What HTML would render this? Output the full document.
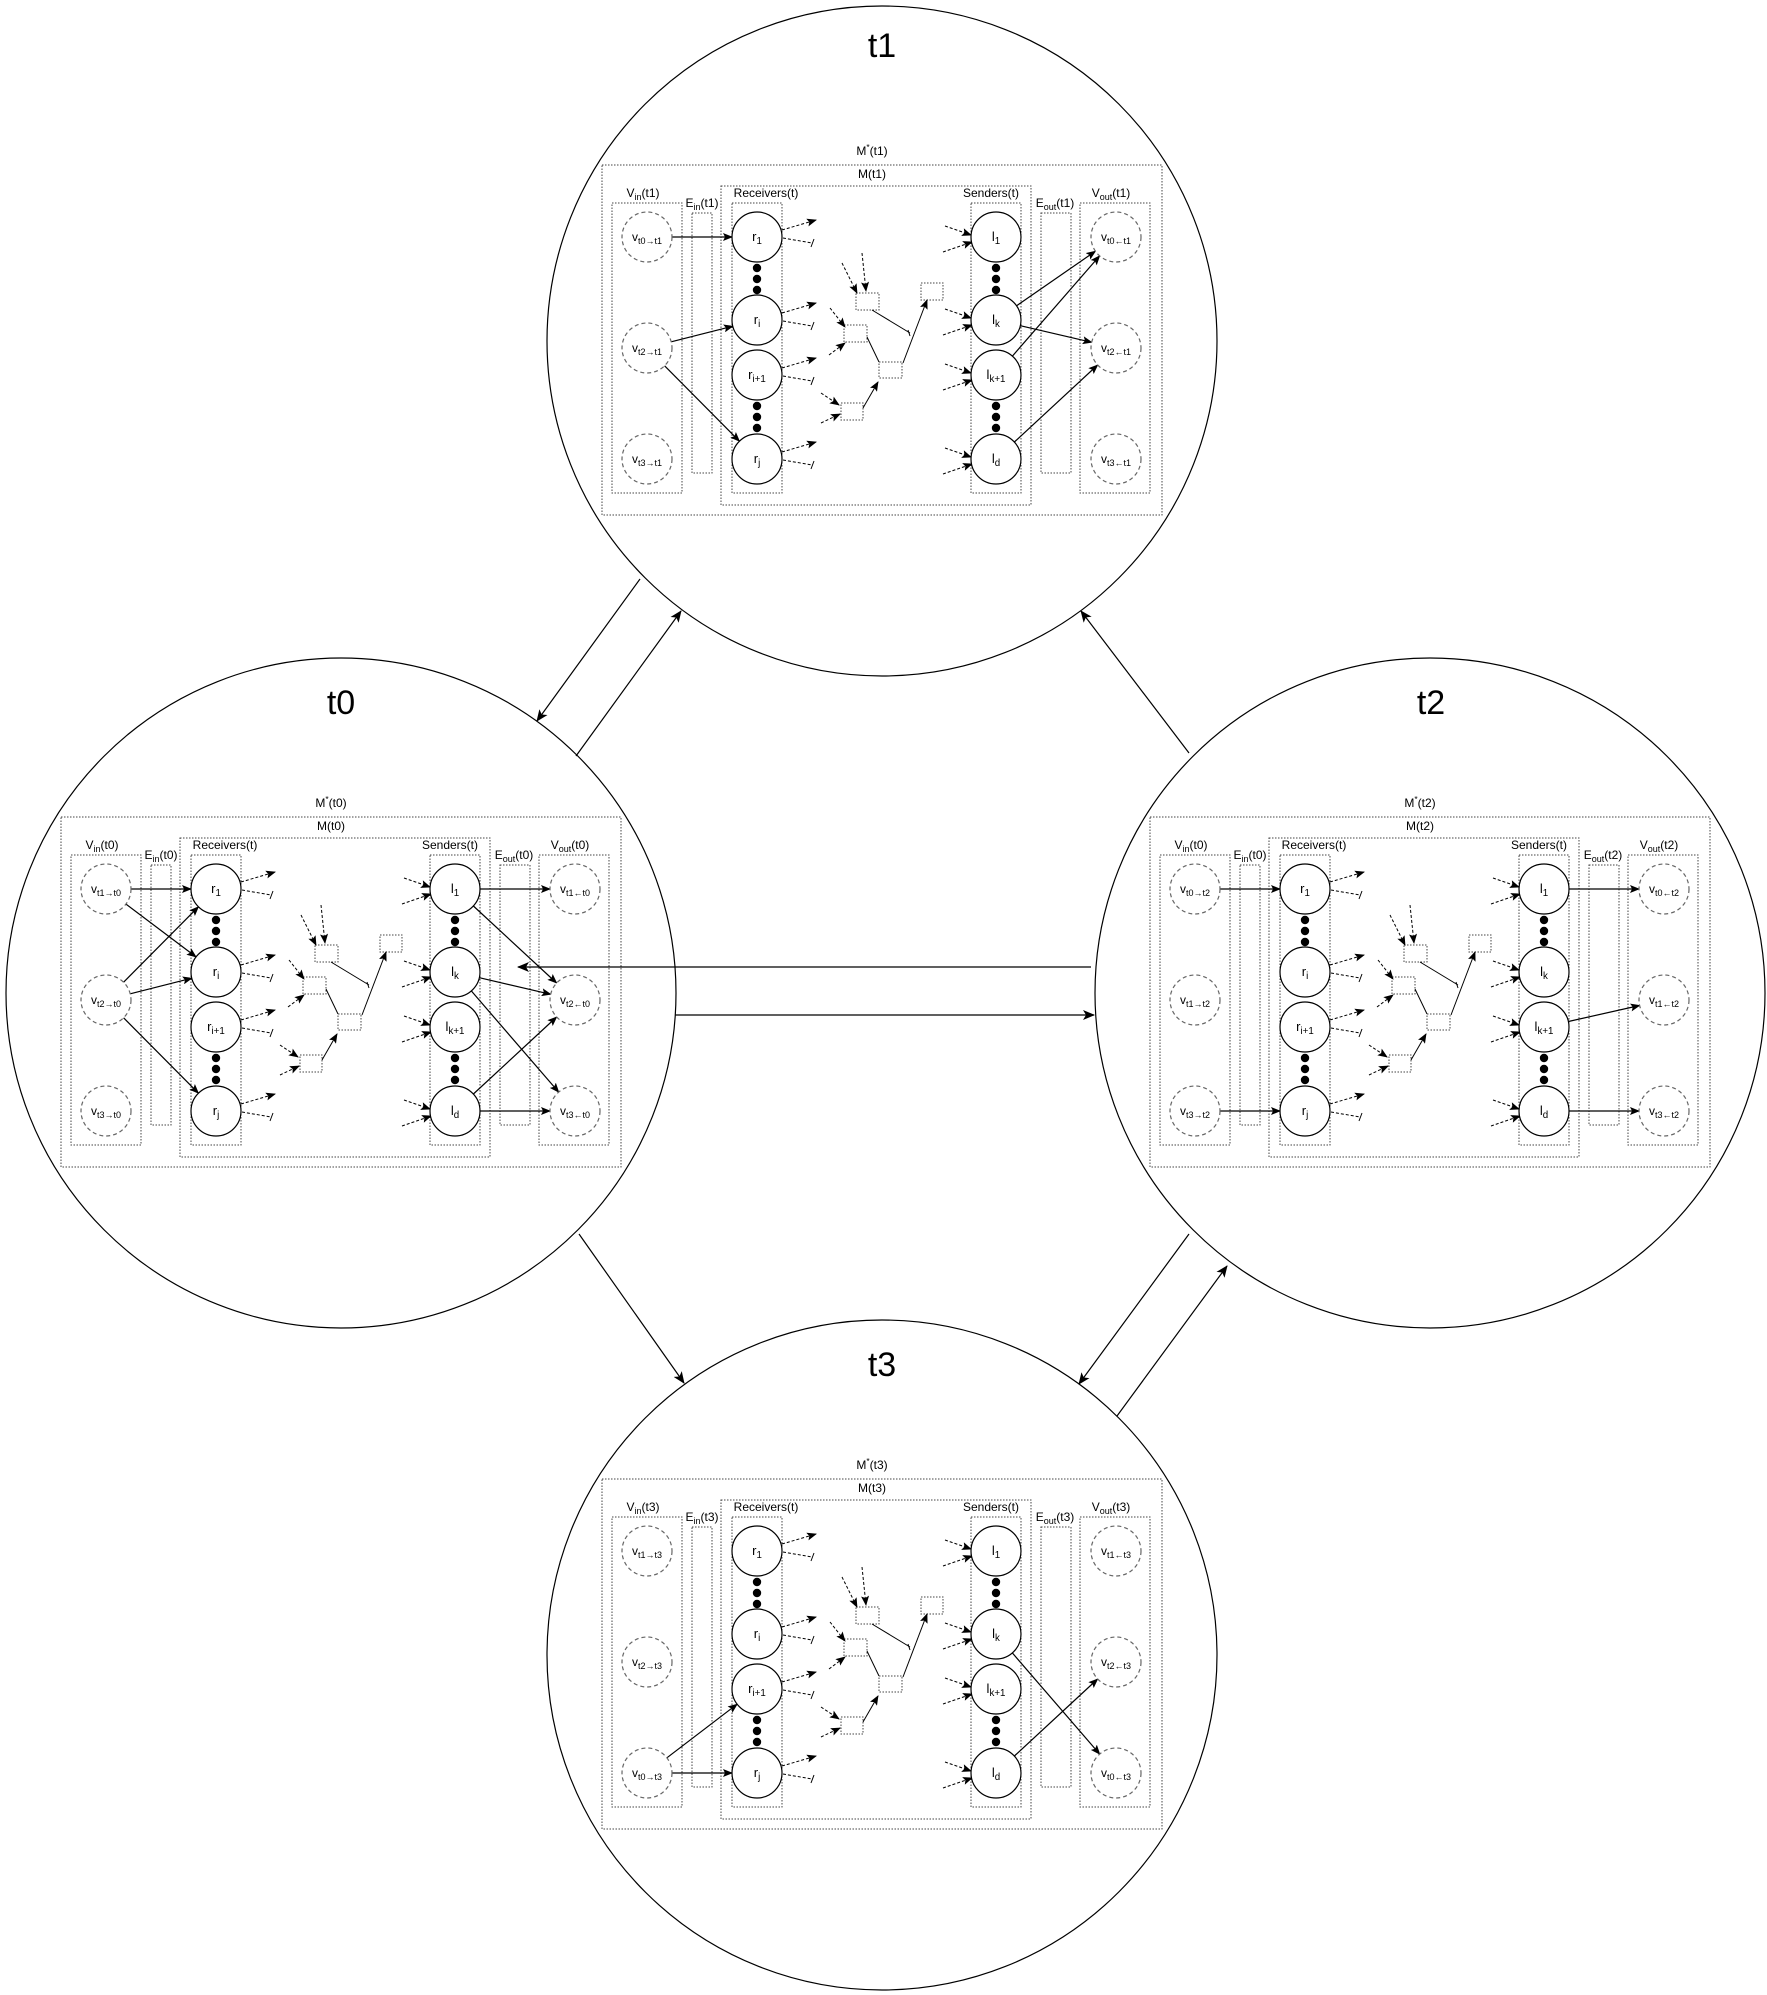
<!DOCTYPE html>
<html><head><meta charset="utf-8">
<style>html,body{margin:0;padding:0;background:#fff}svg{display:block}text{font-family:"Liberation Sans",sans-serif}</style>
</head><body>
<svg id="s" xmlns="http://www.w3.org/2000/svg" width="1767" height="1995" viewBox="0 0 1767 1995">
<defs>
<marker id="a" markerWidth="10" markerHeight="8" refX="9" refY="4" orient="auto" markerUnits="userSpaceOnUse"><path d="M0,0 L10,4 L0,8 L2,4 Z" fill="#000"/></marker>
<marker id="b" markerWidth="12" markerHeight="10" refX="11" refY="5" orient="auto" markerUnits="userSpaceOnUse"><path d="M0,0 L12,5 L0,10 L3,5 Z" fill="#000"/></marker>
</defs>
<g id="root"></g>
</svg>
<script>
var out=[];
function L(x1,y1,x2,y2,o){out.push('<line x1="'+x1+'" y1="'+y1+'" x2="'+x2+'" y2="'+y2+'" stroke="'+((o&&o.c)||'#000')+'" stroke-width="'+((o&&o.w)||1.2)+'"'+((o&&o.d)?' stroke-dasharray="'+o.d+'"':'')+((o&&o.m)?' marker-end="url(#'+o.m+')"':'')+'/>');}
function R(x,y,w,h){out.push('<rect x="'+x+'" y="'+y+'" width="'+w+'" height="'+h+'" fill="none" stroke="#444" stroke-width="1" stroke-dasharray="1.5,1.5"/>');}
function C(x,y,r,d){out.push('<circle cx="'+x+'" cy="'+y+'" r="'+r+'" fill="#fff" stroke="'+(d?'#666':'#000')+'" stroke-width="1.2"'+(d?' stroke-dasharray="4,3"':'')+'/>');}
function T(x,y,parts,fs){fs=fs||12;var s='<text x="'+x+'" y="'+y+'" font-size="'+fs+'" text-anchor="middle" fill="#000">';var pend=0;
 parts.forEach(function(p){
  if(typeof p==='string'){s+='<tspan dy="'+pend+'">'+p+'</tspan>';pend=0;}
  else if(p.sub){s+='<tspan font-size="'+(fs*0.75)+'" dy="'+(pend+3)+'">'+p.sub+'</tspan>';pend=-3;}
  else if(p.sup){s+='<tspan font-size="'+(fs*0.7)+'" dy="'+(pend-5)+'">'+p.sup+'</tspan>';pend=5;}
 });
 out.push(s+'</text>');}
var YS=[237,320,375,459], VY=[237,348,459];
function edge(x1,y1,x2,y2){var dx=x2-x1,dy=y2-y1,l=Math.sqrt(dx*dx+dy*dy);L((x1+dx/l*25).toFixed(1),(y1+dy/l*25).toFixed(1),(x2-dx/l*25).toFixed(1),(y2-dy/l*25).toFixed(1),{m:'a'});}
function panel(dx,dy,t,cfg){
 out.push('<g transform="translate('+dx+','+dy+')">');
 T(872,155,['M',{sup:'*'},'('+t+')'],12);
 R(602,165,560,350);
 T(872,178,['M('+t+')'],12);
 R(721,186,310,319);
 T(643,197,['V',{sub:'in'},'('+cfg.vt+')'],12);R(612,203,70,290);
 T(702,207,['E',{sub:'in'},'('+cfg.vt+')'],12);R(692,213,20,260);
 T(766,197,['Receivers(t)'],12);R(732,203,50,290);
 T(991,197,['Senders(t)'],12);R(971,203,50,290);
 T(1055,207,['E',{sub:'out'},'('+t+')'],12);R(1041,213,30,260);
 T(1111,197,['V',{sub:'out'},'('+t+')'],12);R(1080,203,70,290);
 [268,279,290,406,417,428].forEach(function(y){out.push('<circle cx="757" cy="'+y+'" r="4.2"/><circle cx="996" cy="'+y+'" r="4.2"/>');});
 YS.forEach(function(y){L(782,y-7,816,y-17,{d:'3,2',m:'a',w:1});L(783,y+1,812,y+6,{d:'3,2',w:1});L(811,y+10,814,y+2,{w:1});
   L(945,y-11,971,y-2,{d:'3,2',m:'a',w:1});L(943,y+15,972,y+5,{d:'3,2',m:'a',w:1});});
 R(856,293,23,17);R(844,325,23,17);R(879,362,23,16);R(841,403,22,17);R(921,283,22,17);
 L(842,263,857,293,{d:'3,2',m:'a',w:1});L(862,253,866,291,{d:'3,2',m:'a',w:1});
 L(830,308,845,327,{d:'3,2',m:'a',w:1});L(829,355,845,343,{d:'3,2',m:'a',w:1});
 L(821,393,839,405,{d:'3,2',m:'a',w:1});L(821,423,840,414,{d:'3,2',m:'a',w:1});
 L(872,310,910,333,{w:1});L(908,330,910,336,{w:1});
 L(867,337,879,362,{w:1});L(863,408,878,382,{w:1,m:'a'});
 L(903,363,927,300,{w:1,m:'a'});
 var rl=[['r',{sub:'1'}],['r',{sub:'i'}],['r',{sub:'i+1'}],['r',{sub:'j'}]];
 var sl=[['l',{sub:'1'}],['l',{sub:'k'}],['l',{sub:'k+1'}],['l',{sub:'d'}]];
 cfg.ein.forEach(function(e){edge(647,VY[e[0]],757,YS[e[1]]);});
 cfg.eout.forEach(function(e){edge(996,YS[e[0]],1116,VY[e[1]]);});
 YS.forEach(function(y,i){C(757,y,25,false);T(757,y+4,rl[i],13);C(996,y,25,false);T(996,y+4,sl[i],13);});
 VY.forEach(function(y,i){C(647,y,25,true);T(647,y+4,['v',{sub:cfg.vin[i]}],12);C(1116,y,25,true);T(1116,y+4,['v',{sub:cfg.vout[i]}],12);});
 out.push('</g>');
}
[[882,341,'t1'],[341,993,'t0'],[1430,993,'t2'],[882,1655,'t3']].forEach(function(c){out.push('<circle cx="'+c[0]+'" cy="'+c[1]+'" r="335" fill="none" stroke="#000" stroke-width="1.2"/>');});
out.push('<text x="882" y="57" font-size="34" text-anchor="middle" font-family="Liberation Sans">t1</text>');
out.push('<text x="341" y="714" font-size="34" text-anchor="middle" font-family="Liberation Sans">t0</text>');
out.push('<text x="1431" y="714" font-size="34" text-anchor="middle" font-family="Liberation Sans">t2</text>');
out.push('<text x="882" y="1376" font-size="34" text-anchor="middle" font-family="Liberation Sans">t3</text>');
panel(0,0,'t1',{vt:'t1',vin:['t0→t1','t2→t1','t3→t1'],vout:['t0←t1','t2←t1','t3←t1'],ein:[[0,0],[1,1],[1,3]],eout:[[1,0],[2,0],[1,1],[3,1]]});
panel(-541,652,'t0',{vt:'t0',vin:['t1→t0','t2→t0','t3→t0'],vout:['t1←t0','t2←t0','t3←t0'],ein:[[0,0],[0,1],[1,0],[1,1],[1,3]],eout:[[0,0],[0,1],[1,1],[1,2],[3,1],[3,2]]});
panel(548,652,'t2',{vt:'t0',vin:['t0→t2','t1→t2','t3→t2'],vout:['t0←t2','t1←t2','t3←t2'],ein:[[0,0],[2,3]],eout:[[0,0],[2,1],[3,2]]});
panel(0,1314,'t3',{vt:'t3',vin:['t1→t3','t2→t3','t0→t3'],vout:['t1←t3','t2←t3','t0←t3'],ein:[[2,2],[2,3]],eout:[[1,2],[3,1]]});
L(640,579,537,721,{m:'b'});L(576,756,681,611,{m:'b'});L(1189,753,1081,611,{m:'b'});
L(1091,967,518,967,{m:'b'});L(675,1015,1094,1015,{m:'b'});
L(579,1234,684,1383,{m:'b'});L(1189,1234,1079,1384,{m:'b'});L(1117,1416,1227,1266,{m:'b'});
document.getElementById('root').innerHTML=out.join('');
</script>
</body></html>
